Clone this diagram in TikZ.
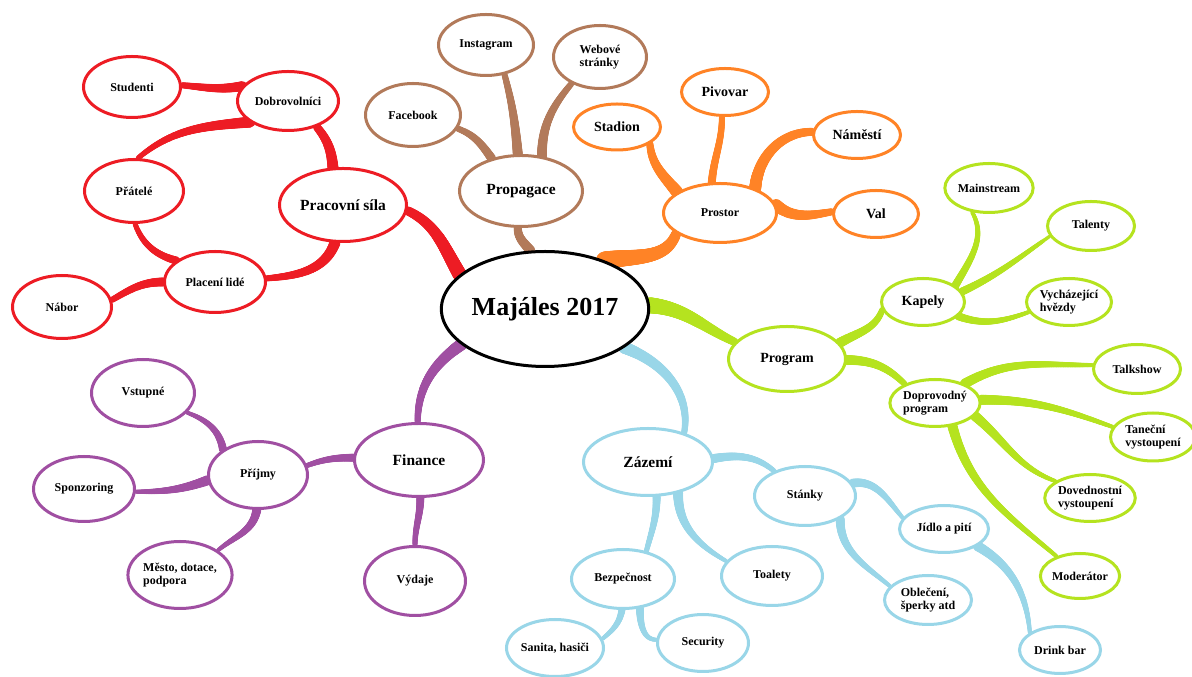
\documentclass[tikz,border=0pt]{standalone}
\usepackage{fontspec}
\setmainfont{Liberation Serif}
\usetikzlibrary{shapes.geometric,decorations.markings,backgrounds}
\definecolor{cred}{RGB}{237,28,36}
\definecolor{cbrown}{RGB}{178,122,90}
\definecolor{corange}{RGB}{255,131,38}
\definecolor{cgreen}{RGB}{181,227,31}
\definecolor{cblue}{RGB}{153,214,232}
\definecolor{cpurple}{RGB}{160,79,162}
\tikzset{
  bub/.style={ellipse, draw=#1, line width=3pt, fill=white, inner sep=0pt,
    align=left, font=\fontsize{12}{13.5}\selectfont\bfseries},
  sz/.style 2 args={minimum width=#1, minimum height=#2},
  mid/.style={font=\fontsize{14}{16}\selectfont\bfseries},
  big/.style={font=\fontsize{15.5}{18}\selectfont\bfseries},
  % tapered branch: colour, start radius, end radius
  br/.style n args={3}{postaction={decorate, decoration={markings,
    mark=between positions 0 and 1 step 0.7pt with {%
      \pgfmathsetmacro\brr{#2-(#2-#3)*\pgfkeysvalueof{/pgf/decoration/mark info/distance from start}/\pgfdecoratedpathlength}%
      \fill[#1] (0,0) circle[radius=\brr pt];}}}},
}
\begin{document}
\begin{tikzpicture}[x=1pt, y=1pt]
  \useasboundingbox (0,0) rectangle (1192,677);
  % hub
  \node[bub=black, sz={207}{115}, font=\fontsize{26}{30}\selectfont\bfseries] (maj) at (545,368) {Majáles 2017};
  % pracovni sila
  \node[bub=cred, sz={127}{73}, big] (prac) at (343,472) {Pracovní síla};
  \node[bub=cred, sz={101}{59}] (dobr) at (288,576) {Dobrovolníci};
  \node[bub=cred, sz={97}{61}] (stud) at (132,590) {Studenti};
  \node[bub=cred, sz={99}{63}] (prat) at (134,486) {Přátelé};
  \node[bub=cred, sz={101}{61}] (plac) at (215,395) {Placení lidé};
  \node[bub=cred, sz={99}{63}] (nabo) at (62,370) {Nábor};
  % propagace
  \node[bub=cbrown, sz={123}{71}, big] (prop) at (521,486) {Propagace};
  \node[bub=cbrown, sz={95}{61}] (inst) at (486,632) {Instagram};
  \node[bub=cbrown, sz={93}{63}] (webo) at (600,620) {Webové\\stránky};
  \node[bub=cbrown, sz={95}{63}] (face) at (413,562) {Facebook};
  % prostor
  \node[bub=corange, sz={113}{59}] (pros) at (720,464) {Prostor};
  \node[bub=corange, sz={87}{46}, mid] (stad) at (617,550) {Stadion};
  \node[bub=corange, sz={87}{47}, mid] (pivo) at (725,585) {Pivovar};
  \node[bub=corange, sz={87}{47}, mid] (name) at (857,542) {Náměstí};
  \node[bub=corange, sz={85}{47}, mid] (val) at (876,463) {Val};
  % program
  \node[bub=cgreen, sz={117}{65}, mid] (prog) at (787,318) {Program};
  \node[bub=cgreen, sz={83}{47}, mid] (kape) at (923,375) {Kapely};
  \node[bub=cgreen, sz={87}{49}] (mstr) at (989,489) {Mainstream};
  \node[bub=cgreen, sz={87}{49}] (tale) at (1091,451) {Talenty};
  \node[bub=cgreen, sz={85}{47}] (vych) at (1069,375) {Vycházející\\hvězdy};
  \node[bub=cgreen, sz={83}{47}] (dopr) at (935,274) {Doprovodný\\program};
  \node[bub=cgreen, sz={87}{49}] (talk) at (1137,308) {Talkshow};
  \node[bub=cgreen, sz={85}{48}] (tane) at (1153,240) {Taneční\\vystoupení};
  \node[bub=cgreen, sz={87}{47}] (dove) at (1090,179) {Dovednostní\\vystoupení};
  \node[bub=cgreen, sz={77}{45}] (mode) at (1080,101) {Moderátor};
  % zazemi
  \node[bub=cblue, sz={129}{67}, big] (zaze) at (648,215) {Zázemí};
  \node[bub=cblue, sz={101}{59}] (stan) at (805,181) {Stánky};
  \node[bub=cblue, sz={89}{47}] (jidl) at (944,148) {Jídlo a pití};
  \node[bub=cblue, sz={87}{49}] (oble) at (928,77) {Oblečení,\\šperky atd};
  \node[bub=cblue, sz={81}{47}] (drin) at (1060,27) {Drink bar};
  \node[bub=cblue, sz={101}{59}] (toal) at (772,101) {Toalety};
  \node[bub=cblue, sz={103}{59}] (bezp) at (623,98) {Bezpečnost};
  \node[bub=cblue, sz={91}{57}] (secu) at (703,34) {Security};
  \node[bub=cblue, sz={97}{57}] (sani) at (555,29) {Sanita, hasiči};
  % finance
  \node[bub=cpurple, sz={129}{73}, big] (fina) at (419,217) {Finance};
  \node[bub=cpurple, sz={99}{67}] (prij) at (258,202) {Příjmy};
  \node[bub=cpurple, sz={103}{67}] (vstu) at (143,284) {Vstupné};
  \node[bub=cpurple, sz={101}{65}] (spon) at (84,188) {Sponzoring};
  \node[bub=cpurple, sz={103}{67}] (mest) at (180,102) {Město, dotace,\\podpora};
  \node[bub=cpurple, sz={101}{69}] (vyda) at (415,96) {Výdaje};
  \begin{pgfonlayer}{background}
    \fill[white] (0,0) rectangle (1192,677);
    % red
    \path[br={cred}{7}{4.5}] (maj.158) to[out=120,in=-25] (prac.-5);
    \path[br={cred}{5.5}{4}] (prac.105) to[out=95,in=-50] (dobr.-42);
    \path[br={cred}{5.5}{3}] (prac.258) to[out=250,in=5] (plac.4);
    \path[br={cred}{5}{3}] (dobr.162) to[out=190,in=-5] (stud.2);
    \path[br={cred}{5.5}{2.5}] (dobr.209) to[out=185,in=40] (prat.83);
    \path[br={cred}{4}{2.5}] (plac.151) to[out=165,in=-70] (prat.-88);
    \path[br={cred}{4.5}{3}] (plac.180) to[out=180,in=30] (nabo.8);
    % brown
    \path[br={cbrown}{5}{4}] (maj.104) to[out=130,in=-90] (prop.265);
    \path[br={cbrown}{4.5}{3}] (prop.132) to[out=125,in=-20] (face.-17);
    \path[br={cbrown}{5}{3}] (prop.95) to[out=95,in=-75] (inst.-58);
    \path[br={cbrown}{5}{3}] (prop.59) to[out=90,in=-130] (webo.223);
    % orange
    \path[br={corange}{9}{5}] (maj.39) to[out=10,in=-110] (pros.205);
    \path[br={corange}{6}{3.5}] (pros.154) to[out=130,in=-85] (stad.-27);
    \path[br={corange}{4}{3}] (pros.105) to[out=85,in=-90] (pivo.263);
    \path[br={corange}{6}{4}] (pros.35) to[out=85,in=180] (name.176);
    \path[br={corange}{6}{3.5}] (pros.8) to[out=-40,in=190] (val.177);
    % green
    \path[br={cgreen}{8}{4}] (maj.2) to[out=-5,in=155] (prog.162);
    \path[br={cgreen}{5}{3}] (prog.17) to[out=30,in=-110] (kape.191);
    \path[br={cgreen}{4}{2}] (kape.27) to[out=60,in=-60] (mstr.235);
    \path[br={cgreen}{4}{1.8}] (kape.15) to[out=25,in=-145] (tale.194);
    \path[br={cgreen}{4}{2}] (kape.-22) to[out=-20,in=200] (vych.194);
    \path[br={cgreen}{5}{3}] (prog.-1) to[out=0,in=135] (dopr.148);
    \path[br={cgreen}{5}{2}] (dopr.33) to[out=30,in=180] (talk.175);
    \path[br={cgreen}{5}{2}] (dopr.4) to[out=0,in=160] (tane.166);
    \path[br={cgreen}{5}{2}] (dopr.-18) to[out=-40,in=160] (dove.154);
    \path[br={cgreen}{5}{2}] (dopr.-53) to[out=-75,in=140] (mode.140);
    % blue
    \path[br={cblue}{6}{3}] (maj.-26) to[out=-20,in=80] (zaze.39);
    \path[br={cblue}{4.5}{2.5}] (zaze.3) to[out=10,in=140] (stan.141);
    \path[br={cblue}{4}{2.5}] (zaze.-76) to[out=-90,in=75] (bezp.50);
    \path[br={cblue}{5}{2}] (zaze.-46) to[out=-90,in=150] (toal.162);
    \path[br={cblue}{4.5}{2}] (stan.15) to[out=10,in=130] (jidl.165);
    \path[br={cblue}{4.5}{2}] (stan.-33) to[out=-90,in=140] (oble.160);
    \path[br={cblue}{5}{2}] (jidl.-27) to[out=-30,in=95] (drin.150);
    \path[br={cblue}{3.5}{2}] (bezp.268) to[out=-100,in=40] (sani.11);
    \path[br={cblue}{4}{2}] (bezp.-60) to[out=-90,in=180] (secu.176);
    % purple
    \path[br={cpurple}{6}{3}] (maj.203) to[out=215,in=90] (fina.92);
    \path[br={cpurple}{4}{2.5}] (fina.178) to[out=180,in=20] (prij.11);
    \path[br={cpurple}{4}{2.5}] (fina.-88) to[out=-90,in=90] (vyda.90);
    \path[br={cpurple}{4}{2}] (prij.144) to[out=100,in=-20] (vstu.-24);
    \path[br={cpurple}{5}{2}] (prij.186) to[out=200,in=0] (spon.-3);
    \path[br={cpurple}{4.5}{2}] (prij.268) to[out=-100,in=40] (mest.33);
  \end{pgfonlayer}
\end{tikzpicture}
\end{document}
